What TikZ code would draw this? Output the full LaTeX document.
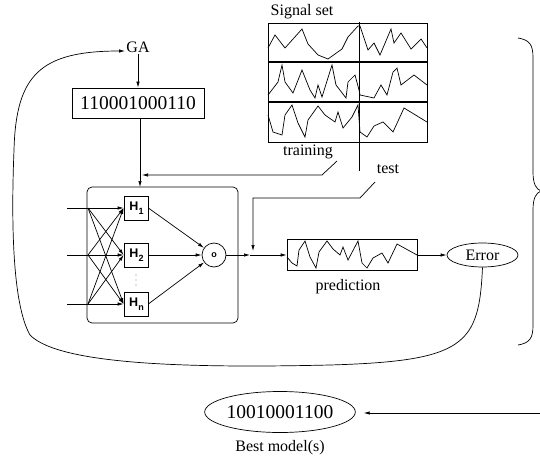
\documentclass[tikz,border=0pt]{standalone}
\usepackage{fontspec}
\setmainfont{Liberation Serif}
\newfontfamily\hfont{Liberation Sans}
\usetikzlibrary{arrows.meta,shapes.geometric}
\tikzset{
  flecha/.style={-{Latex[length=6pt,width=3.4pt]}},
  texto/.style={font=\fontsize{16}{18}\selectfont, inner sep=1pt},
  cromo/.style={font=\fontsize{19.5}{22}\selectfont},
  oculta/.style={draw, minimum width=24pt, minimum height=24pt, inner sep=0pt,
    font=\hfont\bfseries\fontsize{12.5}{12.5}\selectfont},
}
\newcommand{\hsub}[1]{\hspace{1pt}H\raisebox{-3.5pt}{\fontsize{9}{9}\selectfont #1}}
\begin{document}
\begin{tikzpicture}[x=1pt,y=-1pt,line width=0.7pt]
    \useasboundingbox (0,0) rectangle (540,457);

    %Algoritmo genetico y el cromosoma
    \node[texto] (ga) at (138,47) {GA};
    \node[cromo, draw, minimum width=132pt, minimum height=30pt, inner sep=0pt] (crom) at (138,103) {110001000110};
    \draw[flecha] (ga.south) -- (crom.north);

    %Conjunto de senales
    \node[texto] (sigset) at (302,12) {Signal set};
    \draw (268,23) rectangle (427,142);
    \draw[line width=1.2pt] (268,62) -- (427,62);
    \draw[line width=1.2pt] (268,102) -- (427,102);
    \draw (359,22) -- (359,171);
    \draw (268,48) -- (275,35) -- (285,48) -- (302,29) -- (308,44) -- (318,55) -- (328,59) -- (342,49) -- (348,37) -- (358,26)
          -- (360,26) -- (368,50) -- (374,43) -- (380,55) -- (391,29) -- (394,43) -- (401,33) -- (411,49) -- (421,39) -- (427,48);
    \draw (268,95) -- (278,82) -- (282,65) -- (285,82) -- (293,93) -- (302,70) -- (310,90) -- (315,98) -- (318,85) -- (322,97)
          -- (332,65) -- (336,85) -- (346,98) -- (348,82) -- (355,75) -- (359,90)
          -- (360,95) -- (374,98) -- (381,85) -- (387,95) -- (393,72) -- (397,68) -- (401,85) -- (414,75) -- (427,85);
    \draw (268,115) -- (273,132) -- (282,135) -- (285,115) -- (292,105) -- (298,123) -- (305,137) -- (308,120) -- (318,106)
          -- (325,115) -- (335,122) -- (338,112) -- (343,128) -- (352,117) -- (358,105)
          -- (360,132) -- (367,137) -- (374,126) -- (383,122) -- (393,132) -- (404,108) -- (427,122);
    \node[texto] (train) at (308,152) {training};
    \node[texto] (test) at (388,169) {test};

    %Red neuronal
    \draw[rounded corners=5pt] (87,187) rectangle (238,323);
    \coordinate (nntop) at (140,187);
    \draw[flecha] (crom.south -| nntop) -- (nntop);
    \coordinate (trainend) at (337,161);
    \draw[flecha] (trainend) -- (322,175) -- (142,175);

    \node[oculta] (h1) at (136,208) {\hsub{1}};
    \node[oculta] (h2) at (136,255) {\hsub{2}};
    \node[oculta] (h3) at (136,304) {\hsub{n}};
    \foreach \d in {275,280,285}
      \fill[gray] (136,\d) circle (0.6);
    \node[draw, circle, minimum size=24pt, inner sep=0pt, font=\hfont\bfseries\fontsize{9}{9}\selectfont] (out) at (214,255) {o};

    %Entradas
    \foreach \i/\y in {1/208,2/255,3/304}{
      \coordinate (in\i) at (67,\y);
      \coordinate (j\i) at (88,\y);
    }
    \foreach \i in {1,2,3}{
      \draw[flecha] (in\i) -- (h\i.west);
      \foreach \k in {1,2,3}{
        \ifnum\i=\k\else
          \draw[flecha] (j\i) -- (h\k.west);
        \fi
      }
      \draw[flecha] (h\i.east) -- (out);
    }

    %Prediccion y error
    \node[draw, minimum width=130pt, minimum height=31pt, inner sep=0pt] (pred) at (352,255) {};
    \draw (287,257) -- (292,263) -- (297,266) -- (299,250) -- (305,241) -- (310,257) -- (316,268) -- (319,252) -- (327,241)
          -- (333,249) -- (340,255) -- (343,247) -- (348,260) -- (358,241) -- (362,263) -- (367,268) -- (373,258)
          -- (382,253) -- (388,263) -- (397,244) -- (417,255);
    \node[texto] (predlab) at (348,287) {prediction};
    \coordinate (junta) at (250,255);
    \draw[flecha] (out) -- (junta);
    \draw[flecha] (junta) -- (pred.west);
    \coordinate (testend) at (375,182);
    \draw[flecha] (testend) -- (360,198) -- (253,198) -- (253,251);

    \node[draw, ellipse, minimum width=71pt, minimum height=24pt, inner sep=0pt, texto] (err) at (482.5,255) {Error};
    \draw[flecha] (pred.east) -- (err.west);

    %Realimentacion hacia el GA
    \coordinate (gain) at ([yshift=-4pt]ga.west);
    \draw[flecha] (err.south) .. controls (479,345) and (465,361) .. (330,365)
          .. controls (200,368) and (60,366) .. (30,335)
          .. controls (10,300) and (12,200) .. (14,150)
          .. controls (16,75) and (40,51) .. (gain);

    %Llave derecha
    \draw (518,38) .. controls (530,40) and (533,45) .. (533,58) -- (533,172)
          .. controls (533,184) and (536,189) .. (541,191)
          .. controls (536,193) and (533,198) .. (533,210) -- (533,325)
          .. controls (533,338) and (530,343) .. (518,345);

    %Mejor modelo
    \node[draw, ellipse, minimum width=147pt, minimum height=41pt, inner sep=0pt, cromo] (best) at (280,412) {10010001100};
    \node[texto] (bestlab) at (280,448) {Best model(s)};
    \coordinate (rt) at (541,413);
    \draw[flecha, shorten >=8pt] (rt) -- (rt -| best.east);
\end{tikzpicture}
\end{document}
